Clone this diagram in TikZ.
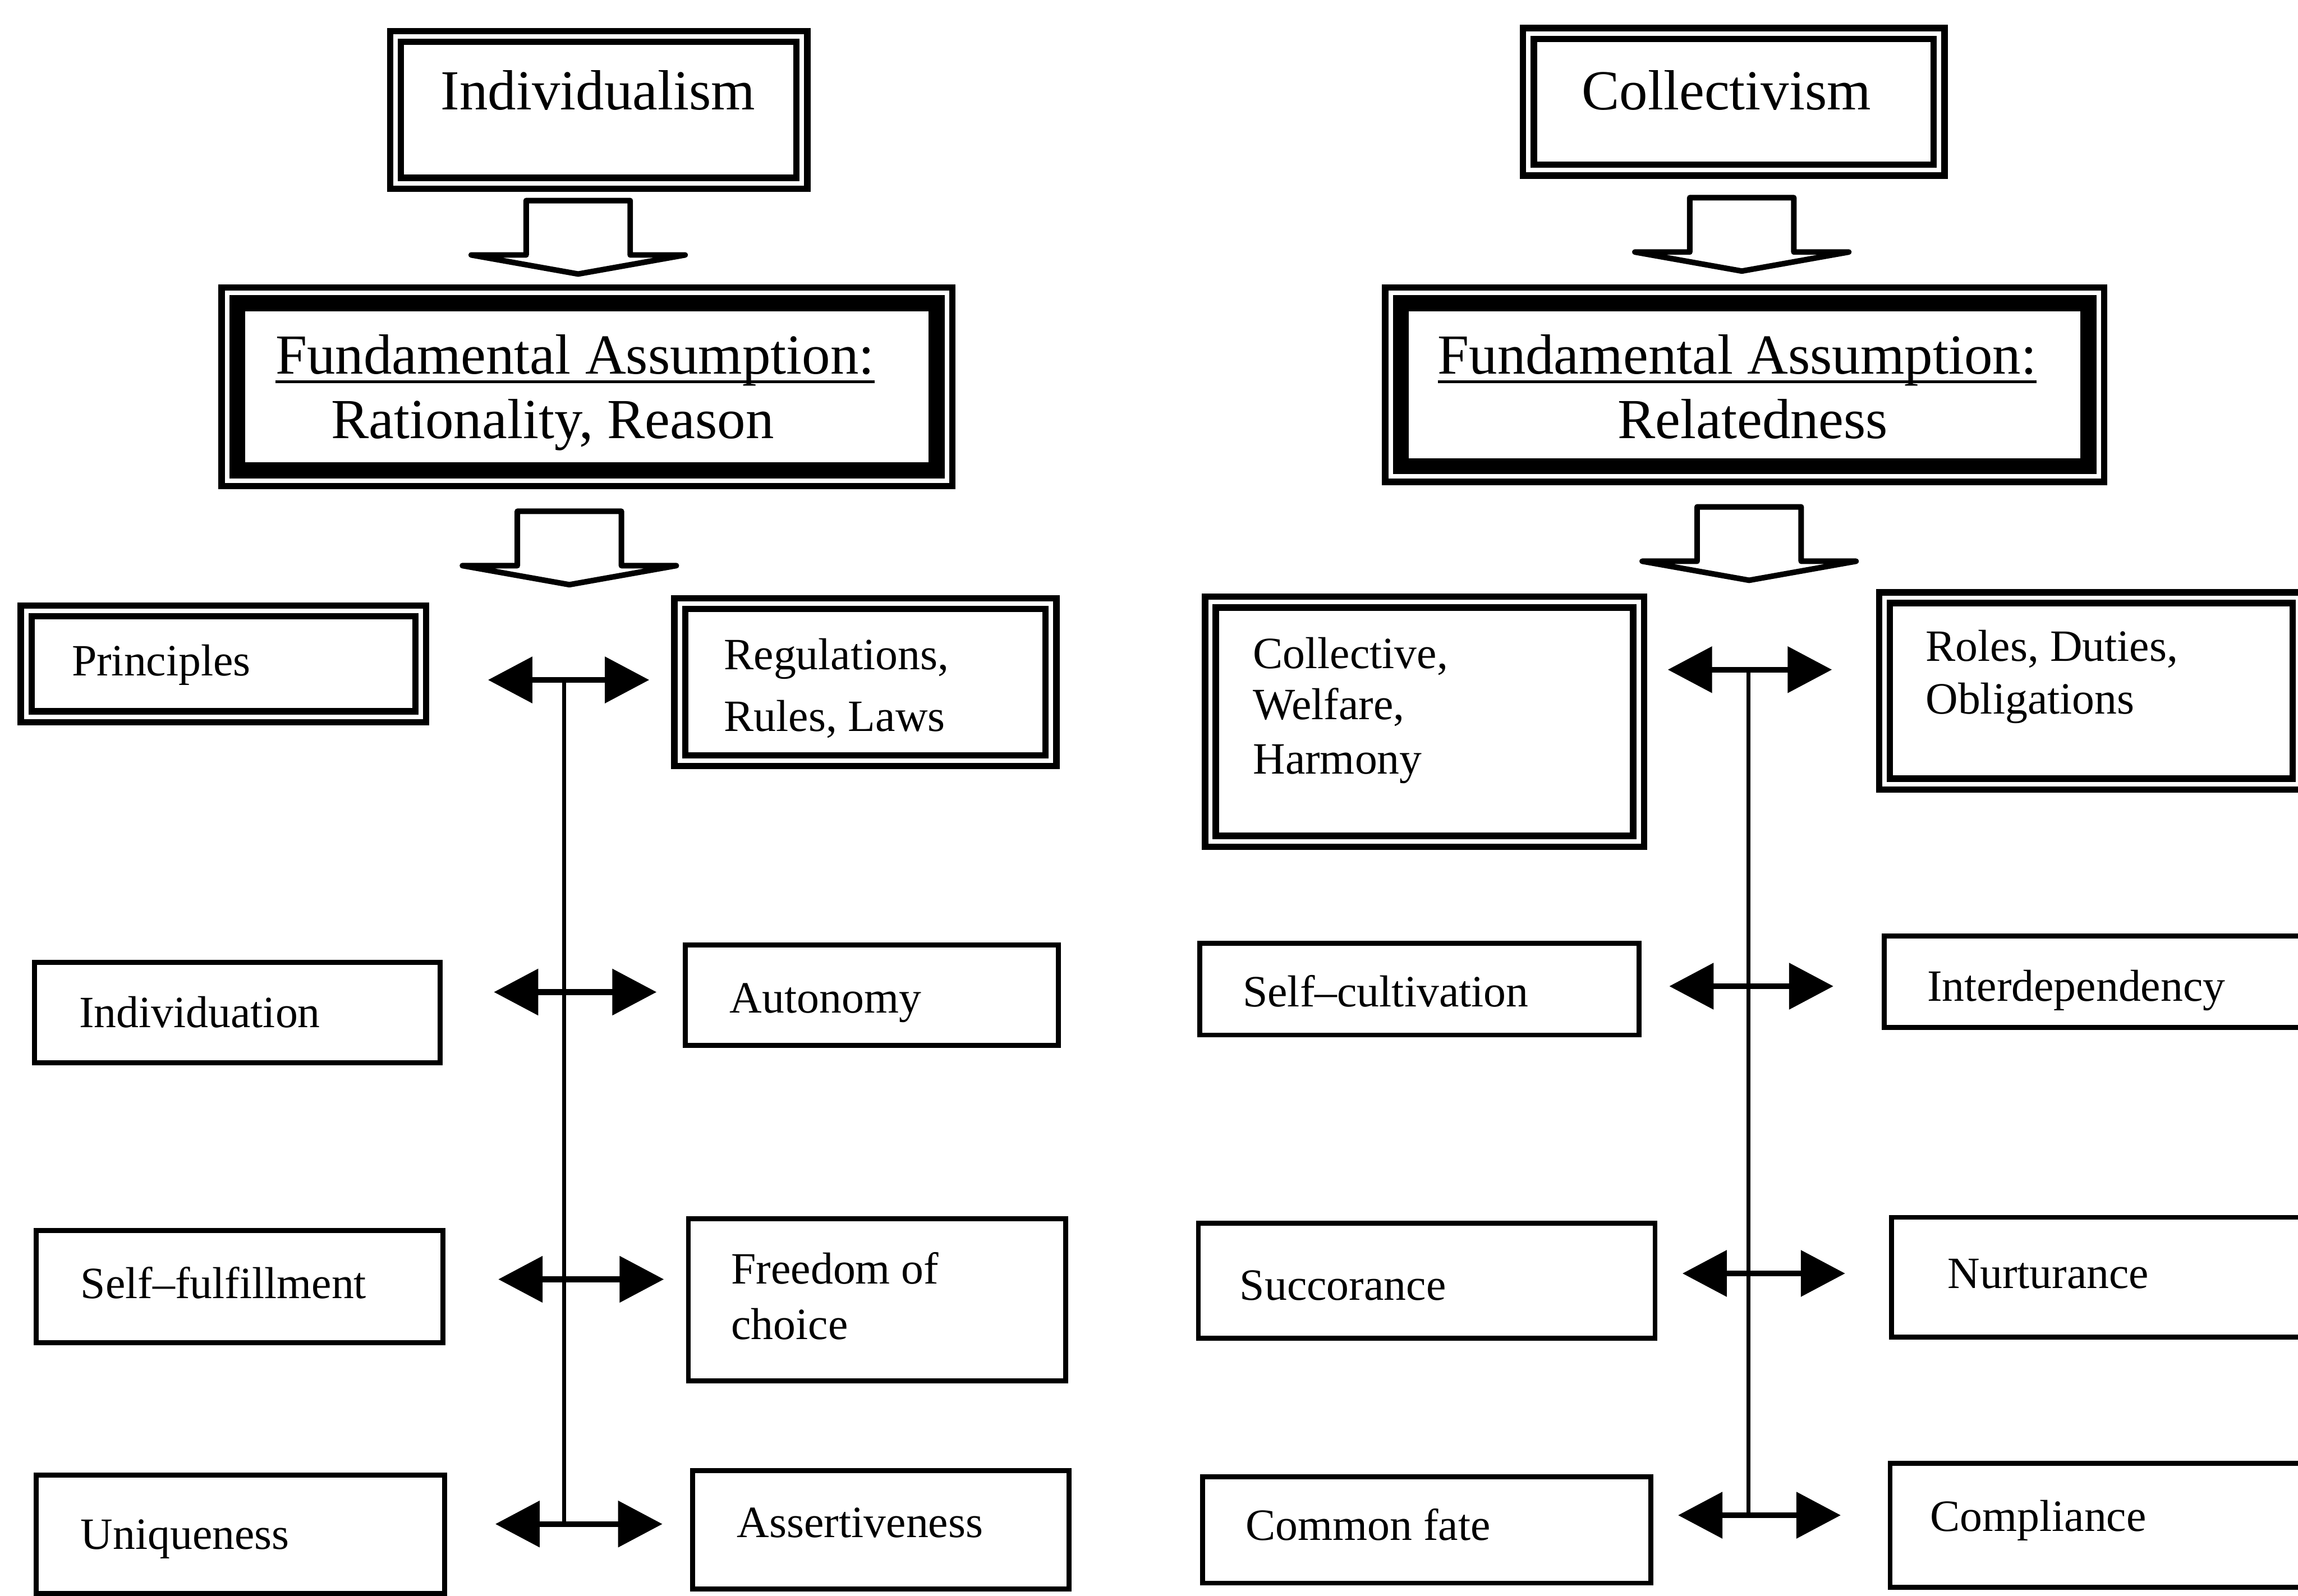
\documentclass[tikz,border=0pt]{standalone}
\usepackage{fontspec}
\setmainfont{Liberation Serif}
\usetikzlibrary{arrows.meta,fit,calc}
\begin{document}
\begin{tikzpicture}[x=0.01cm,y=-0.01cm,
  dbox/.style={draw, double, line width=1.25pt, double distance=0.85pt, inner sep=0, outer sep=0},
  sbox/.style={draw, line width=0.97pt, inner sep=0, outer sep=0},
  fabox/.style={draw, line width=3.13pt, inner sep=0, outer sep=0},
  faframe/.style={line width=1.25pt},
  uline/.style={line width=0.5pt},
  blockline/.style={line width=1.08pt, line join=round},
  vline/.style={line width=0.75pt},
  dblarrow/.style={line width=1.1pt,
    {Triangle[length=8.6pt,width=8.8pt]}-{Triangle[length=8.6pt,width=8.8pt]}},
  big/.style={font=\fontsize{10.98pt}{13pt}\selectfont, inner sep=0, outer sep=0},
  small/.style={font=\fontsize{8.68pt}{10.5pt}\selectfont, inner sep=0, outer sep=0},
  downarr/.pic={\draw[blockline] (-35.5,1.9) -- (-35.5,39) -- (-73,39) -- (0,52)
      -- (73,39) -- (35.5,39) -- (35.5,1.9) -- cycle;}
]
\useasboundingbox (0,0) rectangle (1568,1089);
\fill[white] (0,0) rectangle (1568,1089);
\clip (0,0) rectangle (1568,1089);

% ---------------- Individualism side ----------------
\node[dbox, fit={(269.9,24.9) (547.1,125.1)}] (indiv) {};
\node[big, anchor=base] (tIndiv) at (408,75) {Individualism};

\pic (arrL1) at (394.5,135) {downarr};

\node[fabox, fit={(161.9,206.9) (639.1,321.1)}] (faL) {};
\draw[faframe] ($(faL.north west)+(-10.7,-10.7)$) rectangle ($(faL.south east)+(10.7,10.7)$);
\node[big, anchor=base west] (tFaL1) at (188,255) {Fundamental Assumption:};
\draw[uline] ($(tFaL1.base west)+(0,5.5)$) -- ($(tFaL1.base east)+(0,5.5)$);
\node[big, anchor=base west] (tFaL2) at (226,299) {Rationality, Reason};

\pic (arrL2) at (388.5,347) {downarr};

\node[dbox, fit={(17.9,416.9) (287.1,489.1)}] (princ) {};
\node[small, anchor=base west] (tPrinc) at (49,461) {Principles};
\node[dbox, fit={(463.9,411.9) (717.1,519.1)}] (regs) {};
\node[small, anchor=base west] (tRegs1) at (494,457) {Regulations,};
\node[small, anchor=base west] (tRegs2) at (494,499) {Rules, Laws};

\node[sbox, fit={(23.7,656.7) (300.3,725.3)}] (indvn) {};
\node[small, anchor=base west] (tIndvn) at (54,701) {Individuation};
\node[sbox, fit={(467.7,644.7) (722.3,713.3)}] (auton) {};
\node[small, anchor=base west] (tAuton) at (498,691) {Autonomy};

\node[sbox, fit={(24.7,839.7) (302.3,916.3)}] (sfulf) {};
\node[small, anchor=base west] (tSfulf) at (55,886) {Self–fulfillment};
\node[sbox, fit={(469.7,831.7) (727.3,942.3)}] (freed) {};
\node[small, anchor=base west] (tFreed1) at (499,876) {Freedom of};
\node[small, anchor=base west] (tFreed2) at (499,914) {choice};

\node[sbox, fit={(24.7,1006.7) (303.3,1087.3)}] (uniq) {};
\node[small, anchor=base west] (tUniq) at (55,1057) {Uniqueness};
\node[sbox, fit={(472.7,1003.7) (729.3,1084.3)}] (assert) {};
\node[small, anchor=base west] (tAssert) at (503,1049) {Assertiveness};

% double arrows and their common stem
\coordinate (lA1) at (333,464);  \coordinate (rA1) at (443,464);  \coordinate (jA1) at (385,464);
\coordinate (lA2) at (337,677);  \coordinate (rA2) at (448,677);  \coordinate (jA2) at (385,677);
\coordinate (lA3) at (340,873);  \coordinate (rA3) at (453,873);  \coordinate (jA3) at (385,873);
\coordinate (lA4) at (338,1040); \coordinate (rA4) at (452,1040); \coordinate (jA4) at (385,1040);
\draw[vline] (jA1) -- (jA4);
\foreach \i in {1,2,3,4} {\draw[dblarrow] (lA\i) -- (rA\i);}

% ---------------- Collectivism side ----------------
\node[dbox, fit={(1042.9,22.9) (1323.1,116.1)}] (coll) {};
\node[big, anchor=base] (tColl) at (1178,75) {Collectivism};

\pic (arrR1) at (1188.5,133) {downarr};

\node[fabox, fit={(955.9,206.9) (1425.1,318.1)}] (faR) {};
\draw[faframe] ($(faR.north west)+(-10.7,-10.7)$) rectangle ($(faR.south east)+(10.7,10.7)$);
\node[big, anchor=base west] (tFaR1) at (981,255) {Fundamental Assumption:};
\draw[uline] ($(tFaR1.base west)+(0,5.5)$) -- ($(tFaR1.base east)+(0,5.5)$);
\node[big, anchor=base] (tFaR2) at (1196,299) {Relatedness};

\pic (arrR2) at (1193.5,344) {downarr};

\node[dbox, fit={(825.9,410.9) (1118.1,574.1)}] (collw) {};
\node[small, anchor=base west] (tCollw1) at (855,456) {Collective,};
\node[small, anchor=base west] (tCollw2) at (855,491) {Welfare,};
\node[small, anchor=base west] (tCollw3) at (855,528) {Harmony};
\node[dbox, fit={(1285.9,407.9) (1568.1,535.1)}] (roles) {};
\node[small, anchor=base west] (tRoles1) at (1314,451) {Roles, Duties,};
\node[small, anchor=base west] (tRoles2) at (1314,487) {Obligations};

\node[sbox, fit={(818.7,643.7) (1118.3,706.3)}] (scult) {};
\node[small, anchor=base west] (tScult) at (848,687) {Self–cultivation};
\node[sbox, fit={(1285.7,638.7) (1573.3,701.3)}] (interd) {};
\node[small, anchor=base west] (tInterd) at (1315,683) {Interdependency};

\node[sbox, fit={(817.7,834.7) (1129.3,913.3)}] (succ) {};
\node[small, anchor=base west] (tSucc) at (846,887) {Succorance};
\node[sbox, fit={(1290.7,830.7) (1573.3,912.3)}] (nurt) {};
\node[small, anchor=base west] (tNurt) at (1329,879) {Nurturance};

\node[sbox, fit={(820.7,1007.7) (1126.3,1080.3)}] (cfate) {};
\node[small, anchor=base west] (tCfate) at (850,1051) {Common fate};
\node[sbox, fit={(1289.7,998.7) (1573.3,1083.3)}] (compl) {};
\node[small, anchor=base west] (tCompl) at (1317,1045) {Compliance};

\coordinate (lB1) at (1138,457);  \coordinate (rB1) at (1250,457);  \coordinate (jB1) at (1193,457);
\coordinate (lB2) at (1139,673);  \coordinate (rB2) at (1251,673);  \coordinate (jB2) at (1193,673);
\coordinate (lB3) at (1148,869);  \coordinate (rB3) at (1259,869);  \coordinate (jB3) at (1193,869);
\coordinate (lB4) at (1145,1034); \coordinate (rB4) at (1256,1034); \coordinate (jB4) at (1193,1034);
\draw[vline] (jB1) -- (jB4);
\foreach \i in {1,2,3,4} {\draw[dblarrow] (lB\i) -- (rB\i);}
\end{tikzpicture}
\end{document}
